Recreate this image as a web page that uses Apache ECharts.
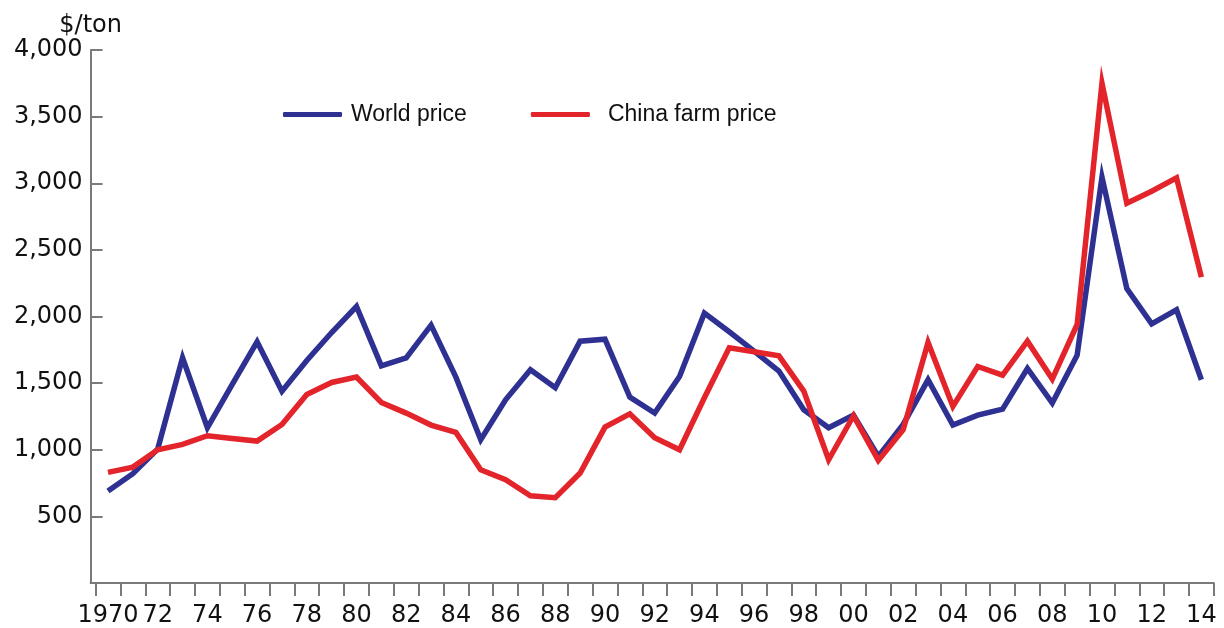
<!DOCTYPE html>
<html>
<head>
<meta charset="utf-8">
<script src="https://cdn.jsdelivr.net/npm/echarts@6/dist/echarts.min.js"></script>
<style>
html,body{margin:0;padding:0;background:#fff;}
#chart{width:1224px;height:628px;}
</style>
</head>
<body>
<div id="chart"></div>
<script>
var years = [1970,1971,1972,1973,1974,1975,1976,1977,1978,1979,
             1980,1981,1982,1983,1984,1985,1986,1987,1988,1989,
             1990,1991,1992,1993,1994,1995,1996,1997,1998,1999,
             2000,2001,2002,2003,2004,2005,2006,2007,2008,2009,
             2010,2011,2012,2013,2014];
var worldPrice = [690,820,1005,1690,1165,1490,1810,1440,1670,1880,
                  2075,1630,1690,1935,1545,1075,1375,1600,1465,1815,
                  1830,1395,1275,1550,2025,1885,1740,1590,1300,1165,
                  1260,950,1190,1525,1185,1260,1305,1610,1350,1710,
                  3045,2210,1945,2050,1525];
var chinaPrice = [830,870,1000,1040,1105,1085,1065,1190,1415,1505,
                  1545,1355,1275,1185,1130,850,775,655,640,825,
                  1170,1270,1090,1000,1390,1765,1735,1705,1440,925,
                  1255,920,1150,1805,1325,1625,1560,1815,1530,1940,
                  3750,2850,2940,3040,2295];
var labelYears = [1970,1972,1974,1976,1978,1980,1982,1984,1986,1988,1990,1992,
                  1994,1996,1998,2000,2002,2004,2006,2008,2010,2012,2014];
var labelTexts = ['1970','72','74','76','78','80','82','84','86','88','90','92',
                  '94','96','98','00','02','04','06','08','10','12','14'];
var seriesNames = ['World price','China farm price'];
var yUnit = '$/ton';

var tickPositions = years.map(function(y){return y - 0.5;}).concat([years[years.length-1] + 0.5]);

var chart = echarts.init(document.getElementById('chart'), null, {renderer:'canvas'});
var axisGray = '#7a7a7a';
var axisFont = 'DejaVu Sans';
chart.setOption({
  animation: false,
  backgroundColor: '#ffffff',
  grid: {left: 90.6, right: 10.2, top: 50, bottom: 43, containLabel: false},
  legend: {
    left: 278, top: 98,
    itemWidth: 59, itemHeight: 5, itemGap: 64,
    icon: 'roundRect',
    textStyle: {fontFamily: 'Liberation Sans', fontSize: 23, color: '#111', padding: [0,0,0,4]},
    data: [
      {name: seriesNames[0]},
      {name: seriesNames[1], textStyle: {padding: [0,0,0,13]}}
    ]
  },
  xAxis: {
    type: 'value',
    min: 1969.3, max: 2014.5,
    splitLine: {show: false},
    axisLine: {show: true, lineStyle: {color: axisGray, width: 2}},
    axisTick: {show: true, length: 13, inside: false, customValues: tickPositions,
               lineStyle: {color: axisGray, width: 2}},
    axisLabel: {
      customValues: labelYears,
      margin: 21,
      fontFamily: axisFont, fontSize: 24, color: '#111',
      formatter: function(v){
        var i = labelYears.indexOf(Math.round(v));
        return i >= 0 ? labelTexts[i] : '';
      }
    }
  },
  yAxis: {
    type: 'value',
    min: 0, max: 4000, interval: 500,
    name: yUnit,
    nameLocation: 'end',
    nameGap: 12,
    nameTextStyle: {fontFamily: axisFont, fontSize: 24, color: '#111', align: 'center'},
    splitLine: {show: false},
    axisLine: {show: true, lineStyle: {color: axisGray, width: 2}},
    axisTick: {show: true, inside: true, length: 12, lineStyle: {color: axisGray, width: 2}},
    axisLabel: {
      margin: 8,
      fontFamily: axisFont, fontSize: 24, color: '#111',
      showMinLabel: false,
      formatter: function(v){ return v === 0 ? '' : v.toLocaleString('en-US'); }
    }
  },
  series: [
    {
      name: seriesNames[0], type: 'line', showSymbol: false, symbol: 'none',
      data: years.map(function(y, i){return [y, worldPrice[i]];}),
      lineStyle: {color: '#2E3192', width: 5.5, join: 'miter'},
      itemStyle: {color: '#2E3192'},
      z: 2
    },
    {
      name: seriesNames[1], type: 'line', showSymbol: false, symbol: 'none',
      data: years.map(function(y, i){return [y, chinaPrice[i]];}),
      lineStyle: {color: '#E3242B', width: 5.5, join: 'miter'},
      itemStyle: {color: '#E3242B'},
      z: 3
    }
  ]
});
</script>
</body>
</html>
